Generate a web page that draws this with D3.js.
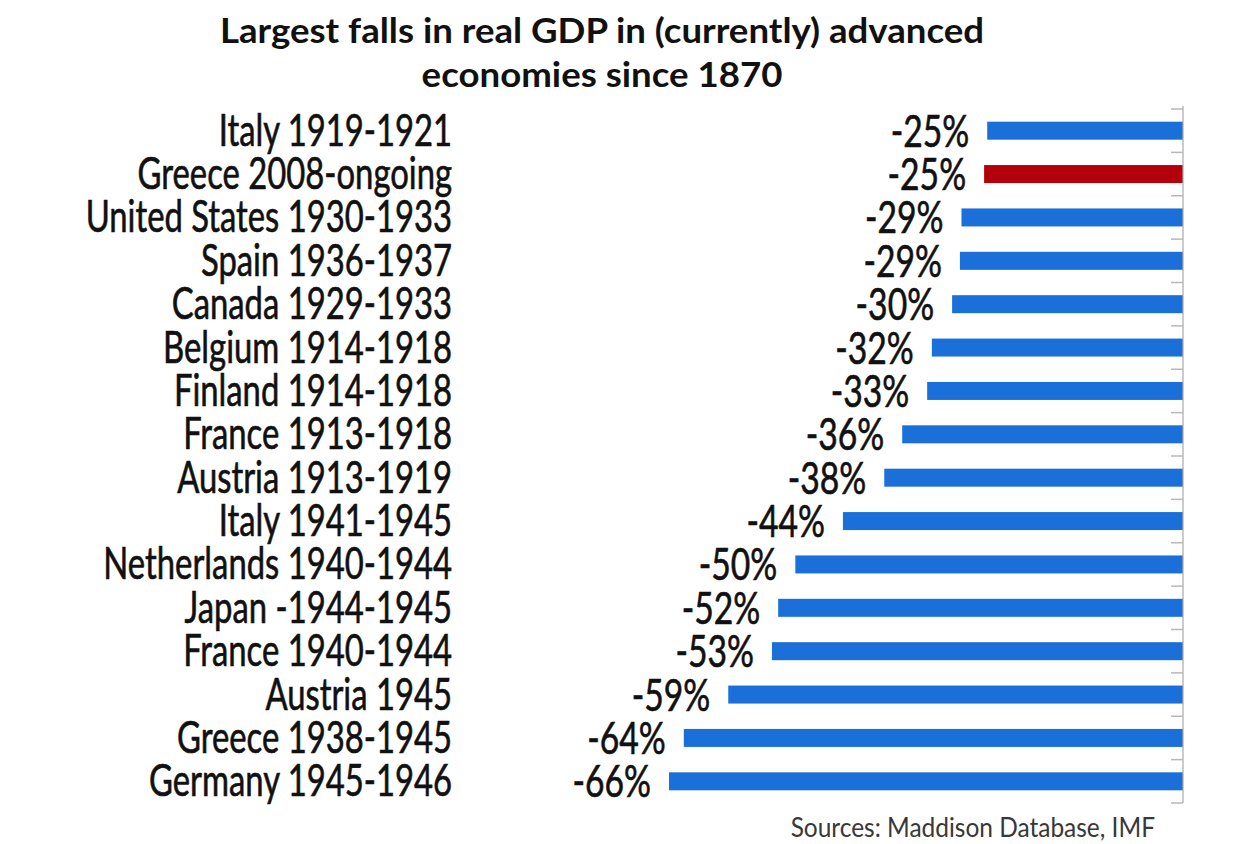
<!DOCTYPE html>
<html>
<head>
<meta charset="utf-8">
<script src="https://cdn.jsdelivr.net/npm/d3@7"></script>
<style>
  html, body { margin: 0; padding: 0; background: #fff; }
  svg { display: block; }
  text { font-family: Lato, "Open Sans", sans-serif; }
</style>
</head>
<body>
<svg id="chart" width="1258" height="844"></svg>
<script>
// ---- data ----
const categories = [
  "Italy 1919-1921",
  "Greece 2008-ongoing",
  "United States 1930-1933",
  "Spain 1936-1937",
  "Canada 1929-1933",
  "Belgium 1914-1918",
  "Finland 1914-1918",
  "France 1913-1918",
  "Austria 1913-1919",
  "Italy 1941-1945",
  "Netherlands 1940-1944",
  "Japan -1944-1945",
  "France 1940-1944",
  "Austria 1945",
  "Greece 1938-1945",
  "Germany 1945-1946"
];
// fall in real GDP (%)
const values = [-25.1, -25.5, -28.4, -28.6, -29.6, -32.2, -32.8, -36.0, -38.3, -43.6, -49.7, -51.9, -52.7, -58.3, -64.0, -65.9];
// printed data labels
const valueLabels = ["-25%", "-25%", "-29%", "-29%", "-30%", "-32%", "-33%", "-36%", "-38%", "-44%", "-50%", "-52%", "-53%", "-59%", "-64%", "-66%"];
const highlighted = ["Greece 2008-ongoing"];
const titleLines = ["Largest falls in real GDP in (currently) advanced", "economies since 1870"];
const sourceText = "Sources: Maddison Database, IMF";

// ---- layout ----
const svg = d3.select("#chart");

const x = d3.scaleLinear().domain([-70, 0]).range([1183 - 70 * 7.8, 1183]);
const y = d3.scaleBand().domain(categories).range([109, 803]).paddingInner(0.585).paddingOuter(0.2925);

const blue = "#1b6fd8", red = "#b4000b";
const labelSize = 34, sy = 1.28;

// title
titleLines.forEach((t, i) => {
  svg.append("g")
    .attr("transform", `translate(602,${43 + i * 44})`)
    .append("text")
    .attr("transform", "scale(1.11,1.02)")
    .attr("text-anchor", "middle")
    .attr("font-weight", 700)
    .attr("font-size", 33)
    .attr("fill", "#111")
    .text(t);
});

// bars
svg.append("g").selectAll("rect")
  .data(categories)
  .join("rect")
  .attr("x", (d, i) => x(values[i]))
  .attr("y", d => y(d))
  .attr("width", (d, i) => x(0) - x(values[i]))
  .attr("height", y.bandwidth())
  .attr("fill", d => highlighted.includes(d) ? red : blue);

// right axis with ticks at category boundaries
const axisG = svg.append("g");
axisG.append("line")
  .attr("x1", x(0)).attr("x2", x(0))
  .attr("y1", y.range()[0] - 3).attr("y2", y.range()[1])
  .attr("stroke", "#a8a8a8").attr("stroke-width", 1.2);
const step = y.step();
const boundaries = d3.range(categories.length + 1).map(i => y.range()[0] + i * step);
axisG.selectAll("line.tick")
  .data(boundaries)
  .join("line")
  .attr("class", "tick")
  .attr("x1", x(0) - 12).attr("x2", x(0))
  .attr("y1", d => d).attr("y2", d => d)
  .attr("stroke", "#b8b8b8").attr("stroke-width", 1.5);

// category labels
const capOffset = 15;
svg.append("g").selectAll("g")
  .data(categories)
  .join("g")
  .attr("transform", d => `translate(452,${y(d) + y.bandwidth() / 2 + capOffset})`)
  .append("text")
  .attr("transform", `scale(0.965,${sy})`)
  .attr("text-anchor", "end")
  .attr("font-size", labelSize)
  .attr("fill", "#111")
  .attr("stroke", "#111")
  .attr("stroke-width", 0.5)
  .text(d => d);

// value labels
svg.append("g").selectAll("g")
  .data(categories)
  .join("g")
  .attr("transform", (d, i) => `translate(${x(values[i]) - 18},${y(d) + y.bandwidth() / 2 + capOffset + 1})`)
  .append("text")
  .attr("transform", `scale(0.99,${sy})`)
  .attr("text-anchor", "end")
  .attr("font-size", labelSize)
  .attr("fill", "#111")
  .attr("stroke", "#111")
  .attr("stroke-width", 0.5)
  .text((d, i) => valueLabels[i]);

// source
svg.append("g")
  .attr("transform", "translate(1155,837)")
  .append("text")
  .attr("transform", "scale(1.02,1.1)")
  .attr("text-anchor", "end")
  .attr("font-size", 24)
  .attr("fill", "#383838")
  .text(sourceText);
</script>
</body>
</html>
